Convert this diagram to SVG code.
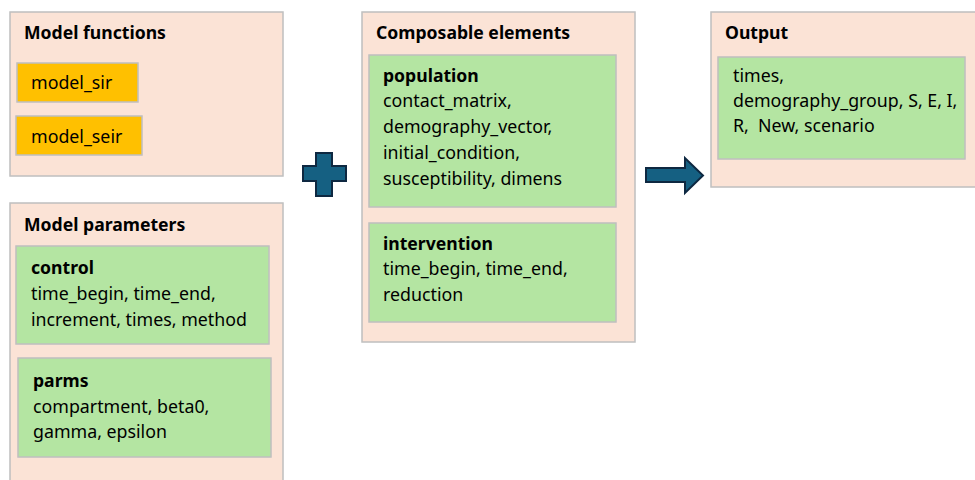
<svg xmlns="http://www.w3.org/2000/svg" width="975" height="480" viewBox="0 0 975 480">
<style>
.panel{fill:#FBE3D6;stroke:#BFBFBF;stroke-width:1.5}
.fn{fill:#FFC000;stroke:#BFBFBF;stroke-width:1.5}
.grp{fill:#B4E5A2;stroke:#BFBFBF;stroke-width:1.5}
text{font-family:"Noto Sans","Liberation Sans",sans-serif;font-size:17.8px;fill:#000;white-space:pre}
.b{font-weight:bold;font-size:17.6px}
.sym{fill:#156082;stroke:#0E2841;stroke-width:2}
</style>
<rect width="975" height="480" fill="#fff"/>
<g id="model-functions">
<rect class="panel" x="10" y="12" width="273" height="164"/>
<text class="b" x="24" y="39">Model functions</text>
</g>
<g id="model_sir">
<rect class="fn" x="17" y="63" width="121" height="39"/>
<text x="31" y="89">model_sir</text>
</g>
<g id="model_seir">
<rect class="fn" x="16" y="116" width="126" height="39"/>
<text x="31" y="143">model_seir</text>
</g>
<g id="model-parameters">
<rect class="panel" x="10" y="203" width="273" height="290"/>
<text class="b" x="24" y="231">Model parameters</text>
</g>
<g id="control">
<rect class="grp" x="16" y="246" width="253" height="98"/>
<text x="31" y="274" class="b">control</text>
<text x="31" y="300">time_begin, time_end,</text>
<text x="31" y="326">increment, times, method</text>
</g>
<g id="parms">
<rect class="grp" x="18" y="358" width="253" height="99"/>
<text x="33" y="387" class="b">parms</text>
<text x="33" y="413">compartment, beta0,</text>
<text x="33" y="438">gamma, epsilon</text>
</g>
<g id="composable-elements">
<rect class="panel" x="362" y="12" width="273" height="330"/>
<text class="b" x="376" y="39">Composable elements</text>
</g>
<g id="population">
<rect class="grp" x="369" y="55" width="247" height="152"/>
<text x="383" y="82" class="b">population</text>
<text x="383" y="107">contact_matrix,</text>
<text x="383" y="133">demography_vector,</text>
<text x="383" y="159">initial_condition,</text>
<text x="383" y="185">susceptibility, dimens</text>
</g>
<g id="intervention">
<rect class="grp" x="369" y="223" width="247" height="99"/>
<text x="383" y="250" class="b">intervention</text>
<text x="383" y="275">time_begin, time_end,</text>
<text x="383" y="301">reduction</text>
</g>
<g id="output">
<rect class="panel" x="711" y="12" width="270" height="175"/>
<text class="b" x="725" y="39">Output</text>
<rect class="grp" x="718" y="57" width="247" height="102"/>
<text x="733" y="82">times,</text>
<text x="733" y="107">demography_group, S, E, I,</text>
<text x="733" y="132" xml:space="preserve">R,  New, scenario</text>
</g>
<g id="connectors">
<path class="sym" d="M316,153 H332 V166 H346 V181 H332 V196 H316 V181 H303 V166 H316 Z"/>
<path class="sym" d="M646,168 H685 V158 L703,175.5 L685,193 V182 H646 Z"/>
</g>
</svg>
